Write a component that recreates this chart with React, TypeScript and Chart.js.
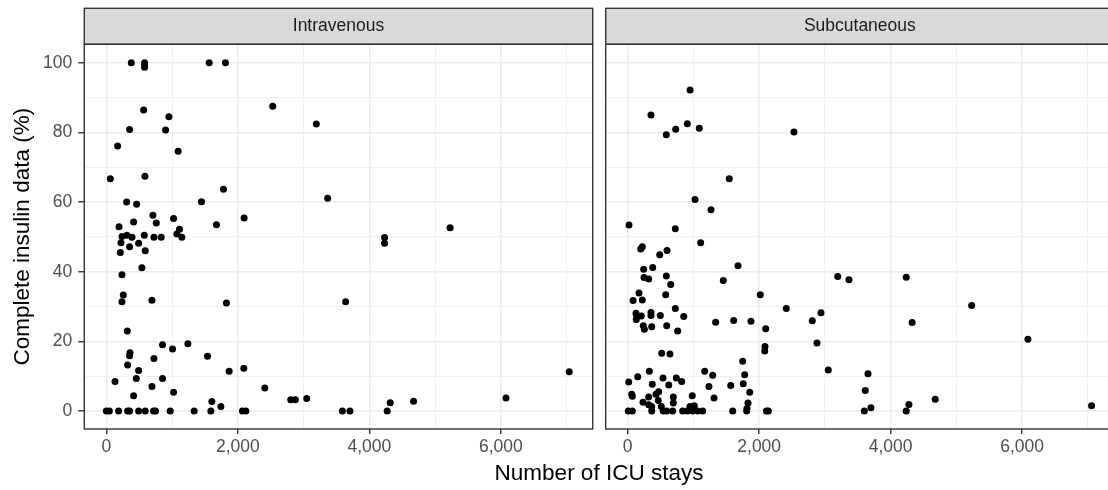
import React, { useEffect, useRef } from "react";
import { Chart, registerables } from "chart.js";

Chart.register(...registerables);

// ---------------- data ----------------
const panels = ["Intravenous", "Subcutaneous"];

const ivStays = [
  380, 582, 582, 582, 1564, 1812, 2531, 567, 952, 3194, 354, 901, 172, 1093, 61, 587, 1782, 309, 461, 1448,
  3367, 709, 1023, 760, 415, 2096, 193, 1675, 1113, 314, 238, 390, 577, 724, 835, 1073, 1149, 223, 491, 354,
  592, 213, 541, 238, 258, 238, 694, 1827, 3640, 319, 855, 1007, 1240, 360, 354, 724, 1539, 324, 491, 1868,
  2091, 132, 456, 855, 694, 2410, 415, 1023, 2805, 2875, 3048, 1605, 1742,
  0, 46, 187, 324, 354, 491, 592, 718, 749, 972, 1336, 1590, 2070, 2121, 3590, 3705, 4272,
  4318, 4673, 6079, 7041, 5229, 4232, 4232,
];
const ivPct = [
  100, 100, 99.4, 98.7, 100, 100, 87.5, 86.4, 84.5, 82.4, 80.8, 80.7, 76.1, 74.6, 66.7, 67.4, 63.7, 60.0, 59.4, 60.1,
  61.1, 56.2, 55.3, 54.0, 54.3, 55.4, 52.9, 53.5, 52.2, 50.5, 50.1, 49.9, 50.5, 49.9, 49.9, 50.8, 49.9, 48.3, 48.2, 47.2,
  46.0, 45.5, 41.1, 39.1, 33.3, 31.4, 31.8, 31.0, 31.4, 23.0, 19.0, 17.8, 19.3, 16.7, 15.9, 15.1, 15.7, 13.2, 11.6, 11.4,
  12.3, 8.5, 9.3, 9.3, 7.0, 6.6, 4.4, 5.4, 3.2, 3.2, 3.6, 2.7, 1.3,
  0, 0, 0, 0, 0, 0, 0, 0, 0, 0, 0, 0, 0, 0, 0, 0, 0,
  2.4, 2.8, 3.7, 11.3, 52.6, 49.8, 48.2,
];

const scStays = [
  948, 354, 907, 730, 1089, 587, 2529, 1545, 1024, 1267, 20, 724, 1110, 222, 198, 598, 487, 1678, 243, 380,
  587, 248, 319, 1454, 654, 3195, 172, 578, 81, 222, 2017, 2413, 724, 126, 354, 137, 207, 354, 496, 852,
  2940, 131, 2808, 1338, 1612, 1875, 237, 365, 253, 593, 760, 2099, 2879, 2088, 2084, 517, 643, 1749, 3051, 329,
  1171, 1293, 1779, 152, 537, 739, 821, 15, 374, 624, 1236, 1567, 1758, 1856, 61, 70, 471, 430, 319, 694,
  982, 1313, 233, 465, 319, 694, 1830, 365, 511, 948, 1013, 1814,
  9, 70, 365, 541, 593, 684, 836, 906, 988, 1064, 1140, 1597, 1810, 2110, 2140,
  3366, 4237, 5232, 4327, 6088, 3655, 3614, 3599, 3700, 4237, 4278, 4678, 7057,
];
const scPct = [
  92.2, 85.0, 82.5, 80.9, 81.2, 79.3, 80.1, 66.7, 60.7, 57.8, 53.4, 52.3, 48.3, 47.2, 46.5, 46.1, 44.9, 41.7, 40.7, 41.2,
  38.8, 38.3, 37.9, 37.5, 36.3, 38.6, 33.9, 33.4, 31.7, 31.9, 33.4, 29.4, 29.4, 28.1, 28.3, 27.3, 27.3, 27.4, 27.4, 27.1,
  28.2, 26.3, 25.9, 25.5, 26.0, 25.8, 24.5, 24.2, 23.5, 24.5, 23.0, 23.6, 19.5, 18.5, 17.2, 16.6, 16.4, 14.3, 11.8, 11.4,
  11.4, 10.3, 10.4, 9.8, 9.5, 9.5, 8.5, 8.3, 7.7, 7.5, 7.0, 7.3, 7.8, 5.4, 4.8, 4.2, 5.5, 4.8, 4.0, 4.0,
  4.4, 3.7, 2.5, 3.0, 1.8, 2.3, 2.3, 1.3, 1.3, 1.3, 1.5, 0.7,
  0, 0, 0, 0, 0, 0, 0, 0, 0, 0, 0, 0, 0, 0, 0,
  37.7, 38.4, 30.3, 25.4, 20.6, 10.7, 5.9, 0, 0.9, 0, 1.9, 3.4, 1.5,
];

const xMajorTicks = [0, 2000, 4000, 6000];
const xGridTicks = [0, 1000, 2000, 3000, 4000, 5000, 6000, 7000];
const yMajorTicks = [0, 20, 40, 60, 80, 100];
const yGridTicks = [0, 10, 20, 30, 40, 50, 60, 70, 80, 90, 100];
const xAxisTitle = "Number of ICU stays";
const yAxisTitle = "Complete insulin data (%)";

// ---------------- styling ----------------
const FONT = '"Liberation Sans", Arial, Helvetica, sans-serif';
const TICK_SIZE = 17.5;
const TITLE_SIZE = 22.5;
const STRIP_TOP = 8.3;
const X_MIN = -335;
const X_MAX = 7398;
const Y_MIN = -5.17;
const Y_MAX = 105.3;

const facetPlugin = {
  id: "facetDecor",
  beforeDraw(chart: any) {
    const { ctx, chartArea: a } = chart;
    ctx.save();
    ctx.fillStyle = "#FFFFFF";
    ctx.fillRect(0, 0, chart.width, chart.height);
    ctx.fillStyle = "#D9D9D9";
    ctx.fillRect(a.left, STRIP_TOP, a.right - a.left, a.top - STRIP_TOP);
    ctx.restore();
  },
  afterDraw(chart: any) {
    const { ctx, chartArea: a } = chart;
    ctx.save();
    ctx.strokeStyle = "#333333";
    ctx.lineWidth = 1.4;
    ctx.strokeRect(a.left, STRIP_TOP, a.right - a.left, a.top - STRIP_TOP);
    ctx.strokeRect(a.left, a.top, a.right - a.left, a.bottom - a.top);
    ctx.restore();
  },
};

function makeConfig(stays: number[], pct: number[], label: string, isLeft: boolean) {
  const data = stays.map((x, i) => ({ x, y: pct[i] }));
  return {
    type: "scatter" as const,
    data: {
      datasets: [
        {
          data,
          pointRadius: 3.5,
          pointHoverRadius: 3.5,
          pointBackgroundColor: "#000000",
          pointBorderWidth: 0,
          showLine: false,
        },
      ],
    },
    options: {
      animation: false,
      responsive: false,
      events: [],
      layout: {
        padding: isLeft
          ? { left: 0, top: STRIP_TOP, right: 7.3, bottom: 0 }
          : { left: 5.7, top: STRIP_TOP, right: 6, bottom: 0 },
      },
      plugins: {
        legend: { display: false },
        tooltip: { enabled: false },
        title: {
          display: true,
          text: label,
          fullSize: false,
          color: "#1A1A1A",
          font: { family: FONT, size: TICK_SIZE, weight: "normal", lineHeight: 1.2 },
          padding: { top: 7.5, bottom: 7.5 },
        },
      },
      scales: {
        x: {
          type: "linear",
          min: X_MIN,
          max: X_MAX,
          afterBuildTicks: (scale: any) => {
            scale.ticks = xGridTicks.map((v) => ({ value: v }));
          },
          afterFit: (scale: any) => {
            scale.height = 61;
          },
          border: { display: false },
          grid: {
            color: "#EBEBEB",
            lineWidth: (c: any) => (c.tick && xMajorTicks.includes(c.tick.value) ? 1.5 : 0.75),
            tickColor: (c: any) => (c.tick && xMajorTicks.includes(c.tick.value) ? "#333333" : "rgba(0,0,0,0)"),
            tickWidth: 1.4,
            tickLength: 5,
            drawTicks: true,
          },
          ticks: {
            autoSkip: false,
            maxRotation: 0,
            minRotation: 0,
            padding: 3,
            color: "#4D4D4D",
            font: { family: FONT, size: TICK_SIZE },
            callback: (v: number) => (xMajorTicks.includes(v) ? v.toLocaleString("en-US") : ""),
          },
        },
        y: {
          type: "linear",
          min: Y_MIN,
          max: Y_MAX,
          afterBuildTicks: (scale: any) => {
            scale.ticks = yGridTicks.map((v) => ({ value: v }));
          },
          afterFit: (scale: any) => {
            scale.width = isLeft ? 84.3 : 0;
          },
          border: { display: false },
          grid: {
            color: "#EBEBEB",
            lineWidth: (c: any) => (c.tick && yMajorTicks.includes(c.tick.value) ? 1.5 : 0.75),
            tickColor: (c: any) =>
              isLeft && c.tick && yMajorTicks.includes(c.tick.value) ? "#333333" : "rgba(0,0,0,0)",
            tickWidth: 1.4,
            tickLength: 6,
            drawTicks: isLeft,
          },
          ticks: {
            display: isLeft,
            autoSkip: false,
            padding: 6,
            color: "#4D4D4D",
            font: { family: FONT, size: TICK_SIZE },
            callback: (v: number) => (yMajorTicks.includes(v) ? String(v) : ""),
          },
          title: {
            display: isLeft,
            text: yAxisTitle,
            color: "#000000",
            font: { family: FONT, size: TITLE_SIZE, lineHeight: 1.2 },
            padding: { top: 9.5, bottom: 0 },
          },
        },
      },
    },
    plugins: [facetPlugin],
  };
}

function FacetPanel(props: {
  stays: number[];
  pct: number[];
  label: string;
  isLeft: boolean;
  left: number;
  width: number;
}) {
  const ref = useRef<HTMLCanvasElement | null>(null);
  useEffect(() => {
    if (!ref.current) return;
    const chart = new Chart(ref.current, makeConfig(props.stays, props.pct, props.label, props.isLeft) as any);
    return () => chart.destroy();
  }, []);
  return (
    <canvas
      ref={ref}
      width={props.width}
      height={490}
      style={{ position: "absolute", left: props.left, top: 0, width: props.width, height: 490 }}
    />
  );
}

export default function App() {
  return (
    <div
      style={{
        position: "absolute",
        left: 0,
        top: 0,
        width: 1108,
        height: 490,
        overflow: "hidden",
        background: "#FFFFFF",
      }}
    >
      <FacetPanel stays={ivStays} pct={ivPct} label={panels[0]} isLeft={true} left={0} width={600} />
      <FacetPanel stays={scStays} pct={scPct} label={panels[1]} isLeft={false} left={600} width={520} />
      <div
        style={{
          position: "absolute",
          left: 399,
          top: 462,
          width: 400,
          textAlign: "center",
          fontFamily: FONT,
          fontSize: TITLE_SIZE,
          lineHeight: `${TITLE_SIZE}px`,
          color: "#000000",
          whiteSpace: "nowrap",
        }}
      >
        {xAxisTitle}
      </div>
    </div>
  );
}
